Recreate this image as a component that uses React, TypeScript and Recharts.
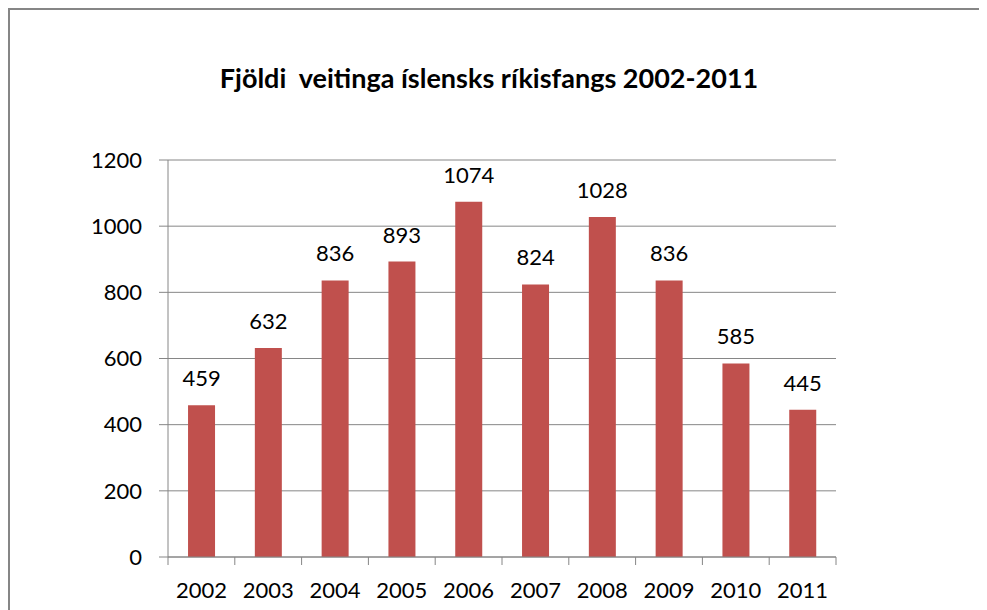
import { BarChart, Bar, XAxis, YAxis, CartesianGrid, LabelList } from "recharts";

const years = ["2002", "2003", "2004", "2005", "2006", "2007", "2008", "2009", "2010", "2011"];
const grants = [459, 632, 836, 893, 1074, 824, 1028, 836, 585, 445];
const yTicks = [0, 200, 400, 600, 800, 1000, 1200];

const chartData = years.map((year, i) => ({ year, value: grants[i] }));

const FONT = "Lato, 'Open Sans', sans-serif";
const GRAY = "#868686";

const CHART_W = 969;
const CHART_H = 600;
const MARGIN = { top: 150, right: 143, left: 0, bottom: 0 };
const Y_AXIS_W = 158;
const BAND = (CHART_W - MARGIN.right - Y_AXIS_W) / years.length;
const LABEL_GAP = 25;

// Excel puts the x tick marks between categories, not under them
function YearTick(props: any) {
  const { x, y, payload, index } = props;
  const left = x - BAND / 2;
  const right = x + BAND / 2;
  const top = y - LABEL_GAP;
  return (
    <g>
      <line x1={left} x2={left} y1={top} y2={top + 8} stroke={GRAY} />
      {index === years.length - 1 && (
        <line x1={right} x2={right} y1={top} y2={top + 8} stroke={GRAY} />
      )}
      <text x={x} y={y} dy="0.71em" textAnchor="middle" fill="#000" fontSize={22} fontFamily={FONT}>
        {payload.value}
      </text>
    </g>
  );
}

export default function App() {
  return (
    <div
      style={{
        position: "relative",
        width: 979,
        height: CHART_H,
        overflow: "hidden",
        borderTop: `2px solid ${GRAY}`,
        borderLeft: `2px solid ${GRAY}`,
        fontFamily: FONT,
      }}
    >
      <style>{"html, body { overflow: hidden; }"}</style>
      <div
        style={{
          position: "absolute",
          left: 0,
          width: 958,
          top: 51,
          textAlign: "center",
          fontWeight: 700,
          fontSize: 27,
          color: "#000",
        }}
      >
        Fjöldi&nbsp; veitinga íslensks ríkisfangs 2002-2011
      </div>
      <BarChart
        width={CHART_W}
        height={CHART_H}
        data={chartData}
        margin={MARGIN}
        barCategoryGap="30%"
      >
        <CartesianGrid vertical={false} stroke={GRAY} strokeWidth={1} />
        <XAxis
          dataKey="year"
          height={53}
          tickLine={false}
          axisLine={{ stroke: GRAY }}
          tickSize={0}
          tickMargin={LABEL_GAP}
          tick={<YearTick />}
          interval={0}
        />
        <YAxis
          width={Y_AXIS_W}
          domain={[0, 1200]}
          ticks={yTicks}
          tickSize={9}
          tickMargin={17}
          axisLine={{ stroke: GRAY }}
          tickLine={{ stroke: GRAY }}
          tick={{ fill: "#000", fontSize: 22, fontFamily: FONT }}
        />
        <Bar dataKey="value" fill="#C0504D" isAnimationActive={false}>
          <LabelList
            dataKey="value"
            position="top"
            offset={19}
            style={{ fill: "#000", fontSize: 22, fontFamily: FONT }}
          />
        </Bar>
      </BarChart>
    </div>
  );
}
